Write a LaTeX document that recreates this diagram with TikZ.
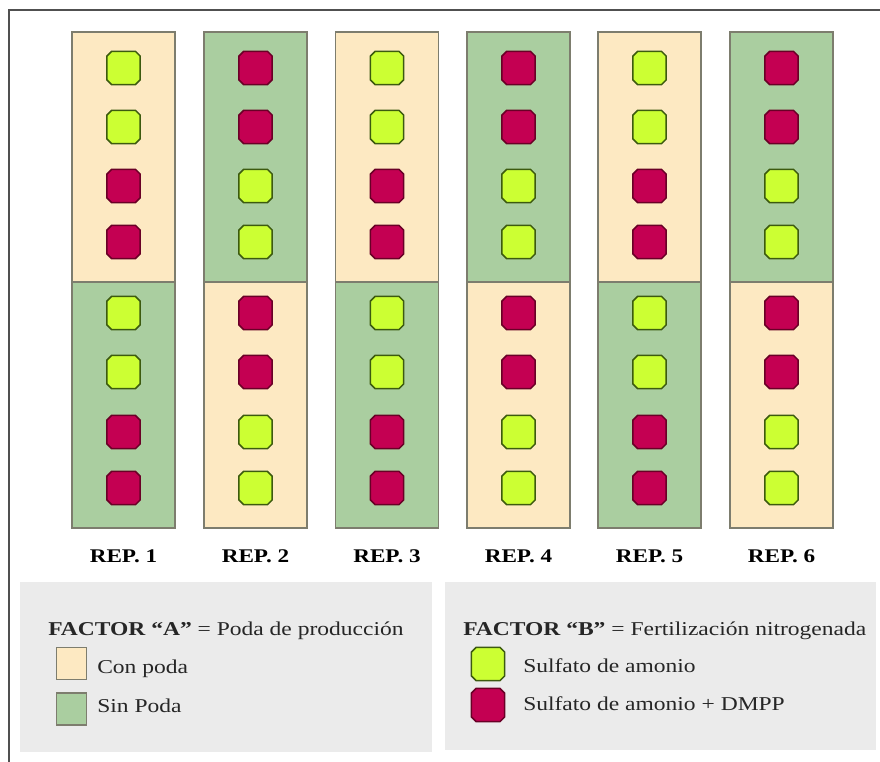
\documentclass[tikz,border=0pt]{standalone}
\usepackage{fontspec}
\setmainfont[FakeStretch=1.2]{Liberation Serif}
\definecolor{cream}{RGB}{253,233,194}
\definecolor{sage}{RGB}{170,206,160}
\definecolor{lime}{RGB}{204,255,51}
\definecolor{limeedge}{RGB}{60,90,15}
\definecolor{crimson}{RGB}{196,0,82}
\definecolor{crimsonedge}{RGB}{105,0,38}
\definecolor{plotedge}{RGB}{125,125,110}
\definecolor{panel}{RGB}{235,235,235}
\definecolor{framegray}{RGB}{80,80,80}
\newcommand{\octh}{12.4pt}% half side of a treatment marker
\newcommand{\octc}{3.4pt}% size of its cut corners
\tikzset{
  plotcream/.style={fill=cream,draw=plotedge,line width=1pt},
  plotsage/.style={fill=sage,draw=plotedge,line width=1pt},
  % a treatment marker: a square with cut corners, drawn inside an invisible box
  dotbase/.style 2 args={rectangle,minimum width=28pt,minimum height=28pt,inner sep=0pt,
    path picture={
      \coordinate (oc) at (path picture bounding box.center);
      \path[fill=#1,draw=#2,line width=1.1pt]
        ([shift={(-\octh+\octc,-\octh)}]oc) -- ([shift={(\octh-\octc,-\octh)}]oc) --
        ([shift={(\octh,-\octh+\octc)}]oc) -- ([shift={(\octh,\octh-\octc)}]oc) --
        ([shift={(\octh-\octc,\octh)}]oc) -- ([shift={(-\octh+\octc,\octh)}]oc) --
        ([shift={(-\octh,\octh-\octc)}]oc) -- ([shift={(-\octh,-\octh+\octc)}]oc) -- cycle;
    }},
  sa/.style={dotbase={lime}{limeedge}},
  sd/.style={dotbase={crimson}{crimsonedge}},
  replabel/.style={font=\fontsize{14.5}{16}\selectfont\bfseries,anchor=base},
  legtext/.style={font=\fontsize{14.7}{17}\selectfont,anchor=base west,inner sep=0pt,text=black!85},
  legsq/.style={minimum width=22pt,minimum height=24pt,inner sep=0pt,line width=0.9pt},
}
\begin{document}
\begin{tikzpicture}[x=0.75pt,y=-0.75pt]
\useasboundingbox (0,0) rectangle (880,762);
% outer frame (top and left edges)
\draw[framegray,line width=1.1pt] (8,10) -- (880,10);
\draw[framegray,line width=1.1pt] (9,10) -- (9,762);

% six replications: column centre x, top colour, bottom colour, marker order
\foreach \i/\cx/\top/\bot/\da/\db in {
  1/123.5/plotcream/plotsage/sa/sd,
  2/255.5/plotsage/plotcream/sd/sa,
  3/387/plotcream/plotsage/sa/sd,
  4/518.5/plotsage/plotcream/sd/sa,
  5/649.5/plotcream/plotsage/sa/sd,
  6/781.5/plotsage/plotcream/sd/sa}{
  \path[\top] (\cx-51.5,32) rectangle (\cx+51.5,282);
  \path[\bot] (\cx-51.5,282) rectangle (\cx+51.5,528);
  \node[\da] (r\i a) at (\cx,68) {};
  \node[\da] (r\i b) at (\cx,127) {};
  \node[\db] (r\i c) at (\cx,186) {};
  \node[\db] (r\i d) at (\cx,242) {};
  \node[\da] (r\i e) at (\cx,313) {};
  \node[\da] (r\i f) at (\cx,372) {};
  \node[\db] (r\i g) at (\cx,432) {};
  \node[\db] (r\i h) at (\cx,488) {};
  \node[replabel] (rep\i) at (\cx,562) {REP. \i};
}

% legend panels
\fill[panel] (20,582) rectangle (432,752);
\fill[panel] (445,582) rectangle (876,750);

\node[legtext] (fa) at (48,635) {\textbf{FACTOR “A”} = Poda de producción};
\node[legsq,fill=cream,draw=plotedge] (cp) at (71.5,663.5) {};
\node[legsq,fill=sage,draw=plotedge] (sp) at (71.5,709) {};
\node[legtext] (cpt) at (97,673) {Con poda};
\node[legtext] (spt) at (97,712) {Sin Poda};

\node[legtext] (fb) at (463,635) {\textbf{FACTOR “B"} = Fertilización nitrogenada};
\node[sa] (lsa) at (488,664) {};
\node[sd] (lsd) at (488,705) {};
\node[legtext] (lsat) at (523,672) {Sulfato de amonio};
\node[legtext] (lsdt) at (523,710) {Sulfato de amonio + DMPP};
\end{tikzpicture}
\end{document}
